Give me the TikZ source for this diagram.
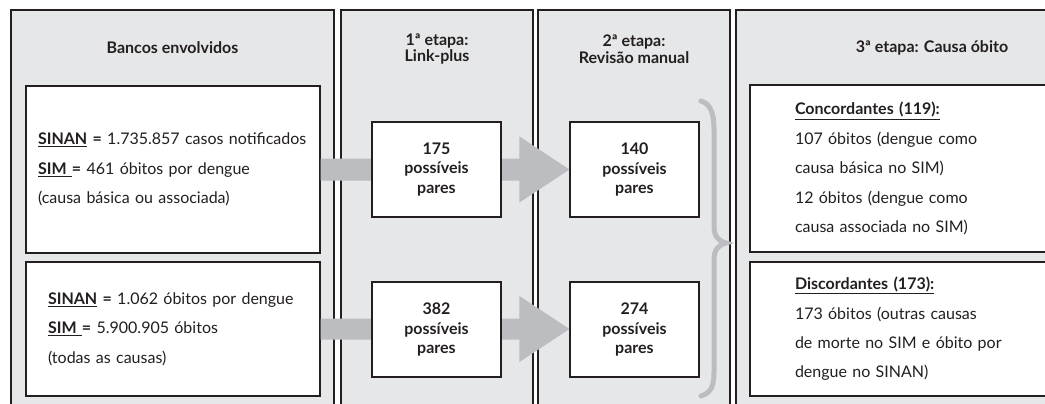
\documentclass[tikz,border=0pt]{standalone}
\usepackage{fontspec}
\setmainfont{Lato}
\usetikzlibrary{calc}
\definecolor{ink}{HTML}{231F20}
\definecolor{panelgray}{HTML}{E6E7E8}
\definecolor{arrowgray}{HTML}{BCBDC0}
\tikzset{
  panel/.style={draw=ink, line width=1.1pt, fill=panelgray},
  whitebox/.style={draw=ink, line width=1.1pt, fill=white, inner sep=0pt, text=ink},
  leftbox/.style={whitebox, align=left, font=\fontsize{16}{29.4}\selectfont},
  pairbox/.style={whitebox, align=center, minimum width=129pt, minimum height=95pt,
    font=\bfseries\fontsize{16}{19.5}\selectfont},
  title/.style={text=ink, align=center, font=\bfseries\fontsize{16}{16.5}\selectfont},
  blockarrow/.style={fill=arrowgray},
  brace/.style={draw=arrowgray, line width=5pt, line cap=round}
}
\begin{document}
\begin{tikzpicture}[x=1pt,y=-1pt]
\useasboundingbox (0,0) rectangle (1045,404);
\clip (0,0) rectangle (1045,404);

% stage panels
\path[panel] (11,10) rectangle (334,420);
\path[panel] (341,10) rectangle (533,420);
\path[panel] (538,10) rectangle (730,420);
\path[panel] (736,10) rectangle (1060,420);

% panel headings
\node[title] (t1) at (172.5,48) {Bancos envolvidos};
\node[title] (t2) at (437,49) {1ª etapa:\\Link-plus};
\node[title] (t3) at (634,49) {2ª etapa:\\Revisão manual};
\node[title] (t4) at (932,48) {3ª etapa: Causa óbito};

% source databases
\node[leftbox, minimum width=294pt, minimum height=167pt, inner xsep=12pt, text width=270pt]
  (b1) at (173,169.5)
  {\textbf{\underline{SINAN} =} 1.735.857 casos notificados\\
   \textbf{\underline{SIM\ }=} 461 óbitos por dengue\\
   (causa básica ou associada)};
\node[leftbox, minimum width=294pt, minimum height=134pt, inner xsep=22pt, text width=250pt]
  (b2) at (173,329)
  {\textbf{\underline{SINAN} =} 1.062 óbitos por dengue\\
   \textbf{\underline{SIM\ }=} 5.900.905 óbitos\\
   (todas as causas)};

% stage 3 outcome boxes
\node[leftbox, minimum width=340pt, minimum height=167pt, inner xsep=45pt, text width=250pt]
  (e1) at (920,168.5)
  {\textbf{\underline{Concordantes (119):}}\\
   107 óbitos (dengue como\\
   causa básica no SIM)\\
   12 óbitos (dengue como\\
   causa associada no SIM)};
\node[leftbox, minimum width=340pt, minimum height=134pt, inner xsep=45pt, text width=250pt]
  (e2) at (920,329)
  {\textbf{\underline{Discordantes (173):}}\\
   173 óbitos (outras causas\\
   de morte no SIM e óbito por\\
   dengue no SINAN)};

% stage 2 boxes (placed first so the arrows can reach their west side)
\node[pairbox] (d1) at (634.5,169.5) {140\\possíveis\\pares};
\node[pairbox] (d2) at (634.5,329.5) {274\\possíveis\\pares};

% block arrows from the databases to the manual review
\fill[blockarrow] ($(b1.east)+(0,-11)$) -- ($(d1.west|-b1.east)+(-50,-11)$)
  -- ($(d1.west|-b1.east)+(-50,-33)$) -- (d1.west|-b1.east)
  -- ($(d1.west|-b1.east)+(-50,33)$) -- ($(d1.west|-b1.east)+(-50,11)$)
  -- ($(b1.east)+(0,11)$) -- cycle;
\fill[blockarrow] ($(b2.east)+(0,-10.5)$) -- ($(d2.west|-b2.east)+(-50,-10.5)$)
  -- ($(d2.west|-b2.east)+(-50,-33)$) -- (d2.west|-b2.east)
  -- ($(d2.west|-b2.east)+(-50,33)$) -- ($(d2.west|-b2.east)+(-50,10.5)$)
  -- ($(b2.east)+(0,10.5)$) -- cycle;

% stage 1 boxes on top of the arrow shafts
\node[pairbox] (c1) at (436.5,169.5) {175\\possíveis\\pares};
\node[pairbox] (c2) at (436.5,329.5) {382\\possíveis\\pares};
\node[pairbox] at (d1) {140\\possíveis\\pares};
\node[pairbox] at (d2) {274\\possíveis\\pares};

% brace gathering the reviewed pairs
\draw[brace] (701,101) .. controls (711,104) and (714,114) .. (714,130)
  -- (714,226) .. controls (714,236) and (718,241) .. (726,243)
  .. controls (718,245) and (714,250) .. (714,260)
  -- (714,372) .. controls (714,386) and (711,393) .. (701,396);
\end{tikzpicture}
\end{document}
